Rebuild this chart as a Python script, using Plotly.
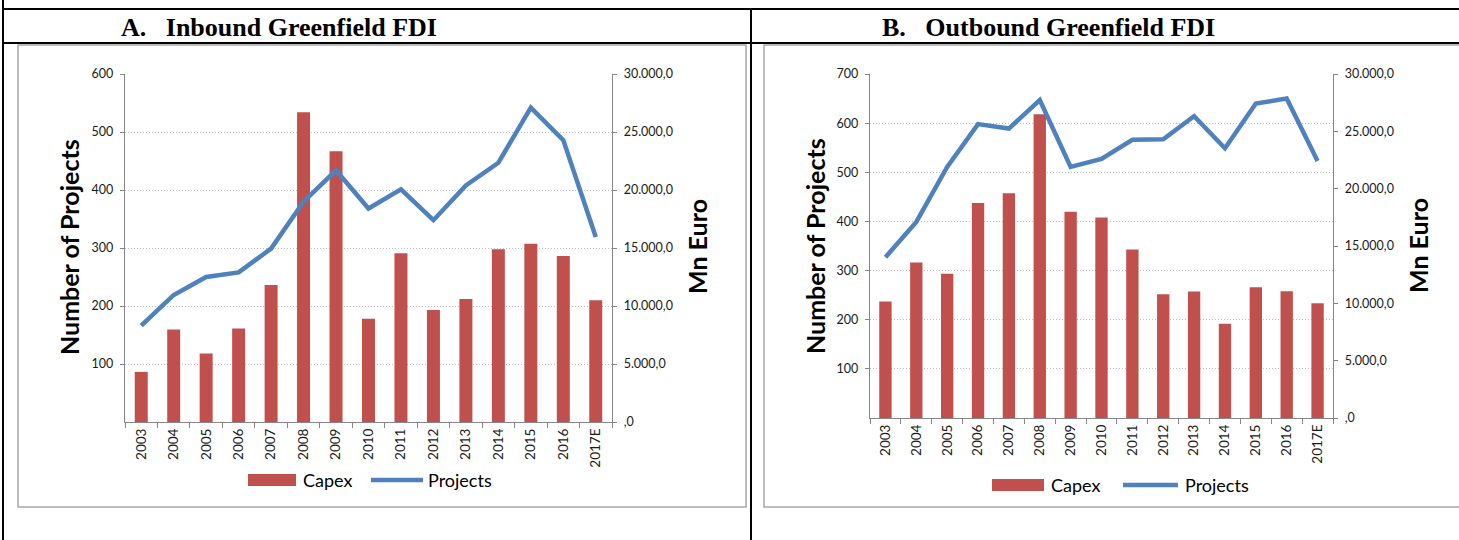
import plotly.graph_objects as go

# ---------------- data ----------------
years = ["2003", "2004", "2005", "2006", "2007", "2008", "2009", "2010",
         "2011", "2012", "2013", "2014", "2015", "2016", "2017E"]

# Panel A: Inbound Greenfield FDI
in_capex = [4320, 7970, 5900, 8050, 11800, 26700, 23350, 8900,
            14550, 9660, 10610, 14900, 15360, 14300, 10500]
in_projects = [166, 219, 250, 258, 299, 380, 434, 368,
               401, 348, 408, 447, 542, 486, 319]

# Panel B: Outbound Greenfield FDI
out_capex = [10150, 13560, 12570, 18760, 19590, 26480, 17980, 17490,
             14690, 10790, 11030, 8230, 11410, 11060, 10010]
out_projects = [327, 399, 511, 598, 589, 647, 511, 527,
                566, 567, 614, 549, 640, 650, 523]

euro_ticks = [0, 5000, 10000, 15000, 20000, 25000, 30000]
euro_labels = [",0", "5.000,0", "10.000,0", "15.000,0", "20.000,0", "25.000,0", "30.000,0"]
in_proj_ticks = [100, 200, 300, 400, 500, 600]
out_proj_ticks = [100, 200, 300, 400, 500, 600, 700]

titles = ["A.\u00a0\u00a0\u00a0Inbound Greenfield FDI", "B.\u00a0\u00a0\u00a0Outbound Greenfield FDI"]

# ---------------- styling ----------------
W, H = 1459, 540
BAR = "#C0504D"
LINE = "#4F81BD"
AX = "#868686"
GRID = "#BFBFBF"
FONT = "Lato"
TXT = "#1a1a1a"


def px(x):
    return x / W


def py(y):
    return 1 - y / H


fig = go.Figure()

# Panel A
fig.add_trace(go.Bar(x=years, y=in_capex, name="Capex", marker_color=BAR,
                     marker_line_width=0, xaxis="x", yaxis="y", showlegend=False))
fig.add_trace(go.Scatter(x=years, y=in_projects, name="Projects", mode="lines",
                         line=dict(color=LINE, width=4.5), xaxis="x", yaxis="y2",
                         showlegend=False))
# Panel B
fig.add_trace(go.Bar(x=years, y=out_capex, name="Capex", marker_color=BAR,
                     marker_line_width=0, xaxis="x2", yaxis="y3", showlegend=False))
fig.add_trace(go.Scatter(x=years, y=out_projects, name="Projects", mode="lines",
                         line=dict(color=LINE, width=4.5), xaxis="x2", yaxis="y4",
                         showlegend=False))

xcommon = dict(type="category", showline=True, linecolor=AX, linewidth=1.3,
               ticks="outside", tickson="boundaries", ticklen=5, tickcolor=AX,
               tickangle=-90, showgrid=False, zeroline=False,
               tickfont=dict(family=FONT, size=13.5, color=TXT), automargin=False)
ycommon = dict(showline=True, linecolor=AX, linewidth=1.3, ticks="outside",
               ticklen=4, tickcolor=AX, zeroline=False, automargin=False,
               tickfont=dict(family=FONT, size=12.5, color=TXT), ticklabelstandoff=4)

fig.update_layout(
    width=W, height=H, margin=dict(l=0, r=0, t=0, b=0),
    paper_bgcolor="white", plot_bgcolor="rgba(0,0,0,0)",
    bargap=0.6, showlegend=False,
    xaxis=dict(domain=[px(125), px(612)], anchor="y", **xcommon),
    yaxis=dict(domain=[py(422), py(74)], anchor="x", side="right", range=[0, 30000],
               tickvals=euro_ticks, ticktext=euro_labels, showgrid=False, **ycommon),
    yaxis2=dict(overlaying="y", anchor="x", side="left", range=[0, 600],
                tickvals=in_proj_ticks, ticktext=[str(v) for v in in_proj_ticks],
                showgrid=True, gridcolor=GRID, griddash="1px,2px", gridwidth=1, **ycommon),
    xaxis2=dict(domain=[px(870), px(1333)], anchor="y3", **xcommon),
    yaxis3=dict(domain=[py(418), py(74)], anchor="x2", side="right", range=[0, 30000],
                tickvals=euro_ticks, ticktext=euro_labels, showgrid=False, **ycommon),
    yaxis4=dict(overlaying="y3", anchor="x2", side="left", range=[0, 700],
                tickvals=out_proj_ticks, ticktext=[str(v) for v in out_proj_ticks],
                showgrid=True, gridcolor=GRID, griddash="1px,2px", gridwidth=1, **ycommon),
)

shapes = []
# table borders
black = dict(color="black", width=2)
shapes.append(dict(type="line", xref="paper", yref="paper", x0=px(3), x1=px(W + 5), y0=py(9), y1=py(9), line=black))
shapes.append(dict(type="line", xref="paper", yref="paper", x0=px(3), x1=px(W + 5), y0=py(43), y1=py(43), line=black))
shapes.append(dict(type="line", xref="paper", yref="paper", x0=px(3), x1=px(3), y0=py(0), y1=py(H + 5), line=black))
shapes.append(dict(type="line", xref="paper", yref="paper", x0=px(751), x1=px(751), y0=py(9), y1=py(H + 5), line=black))
# chart frames
frame = dict(color="#A6A6A6", width=1.5)
shapes.append(dict(type="rect", xref="paper", yref="paper", x0=px(18), x1=px(746), y0=py(507), y1=py(45), line=frame))
shapes.append(dict(type="rect", xref="paper", yref="paper", x0=px(764), x1=px(W + 10), y0=py(507), y1=py(45), line=frame))

annotations = []
# headers
for t, cx in zip(titles, [279, 1048]):
    annotations.append(dict(text=t, xref="paper", yref="paper", x=px(cx), y=py(27),
                            showarrow=False, xanchor="center", yanchor="middle",
                            font=dict(family="Liberation Serif", size=26, color="black", weight="bold")))

# axis titles
tfont = dict(family=FONT, size=25, color="black", weight="bold")
for t, cx, cy in [("Number of Projects", 69, 247), ("Mn Euro", 697, 247),
                  ("Number of Projects", 815, 246), ("Mn Euro", 1418, 246)]:
    annotations.append(dict(text=t, xref="paper", yref="paper", x=px(cx), y=py(cy),
                            showarrow=False, textangle=-90, xanchor="center", yanchor="middle",
                            font=tfont))

# legends (keys)
lfont = dict(family=FONT, size=18, color="black")
for (rx0, rx1, tx1, lx0, lx1, tx2, ly) in [(248, 296, 301, 371, 423, 426, 480),
                                           (992, 1044, 1049, 1123, 1178, 1183, 485)]:
    shapes.append(dict(type="rect", xref="paper", yref="paper", x0=px(rx0), x1=px(rx1),
                       y0=py(ly + 6), y1=py(ly - 6), fillcolor=BAR, line=dict(width=0)))
    shapes.append(dict(type="line", xref="paper", yref="paper", x0=px(lx0), x1=px(lx1),
                       y0=py(ly), y1=py(ly), line=dict(color=LINE, width=4.5)))
    annotations.append(dict(text="Capex", xref="paper", yref="paper", x=px(tx1), y=py(ly),
                            showarrow=False, xanchor="left", yanchor="middle", font=lfont))
    annotations.append(dict(text="Projects", xref="paper", yref="paper", x=px(tx2), y=py(ly),
                            showarrow=False, xanchor="left", yanchor="middle", font=lfont))

fig.update_layout(shapes=shapes, annotations=annotations)
fig.write_html("out.html", config={"displayModeBar": False},
               post_script="document.body.style.margin='0px';document.body.style.overflow='hidden';")
